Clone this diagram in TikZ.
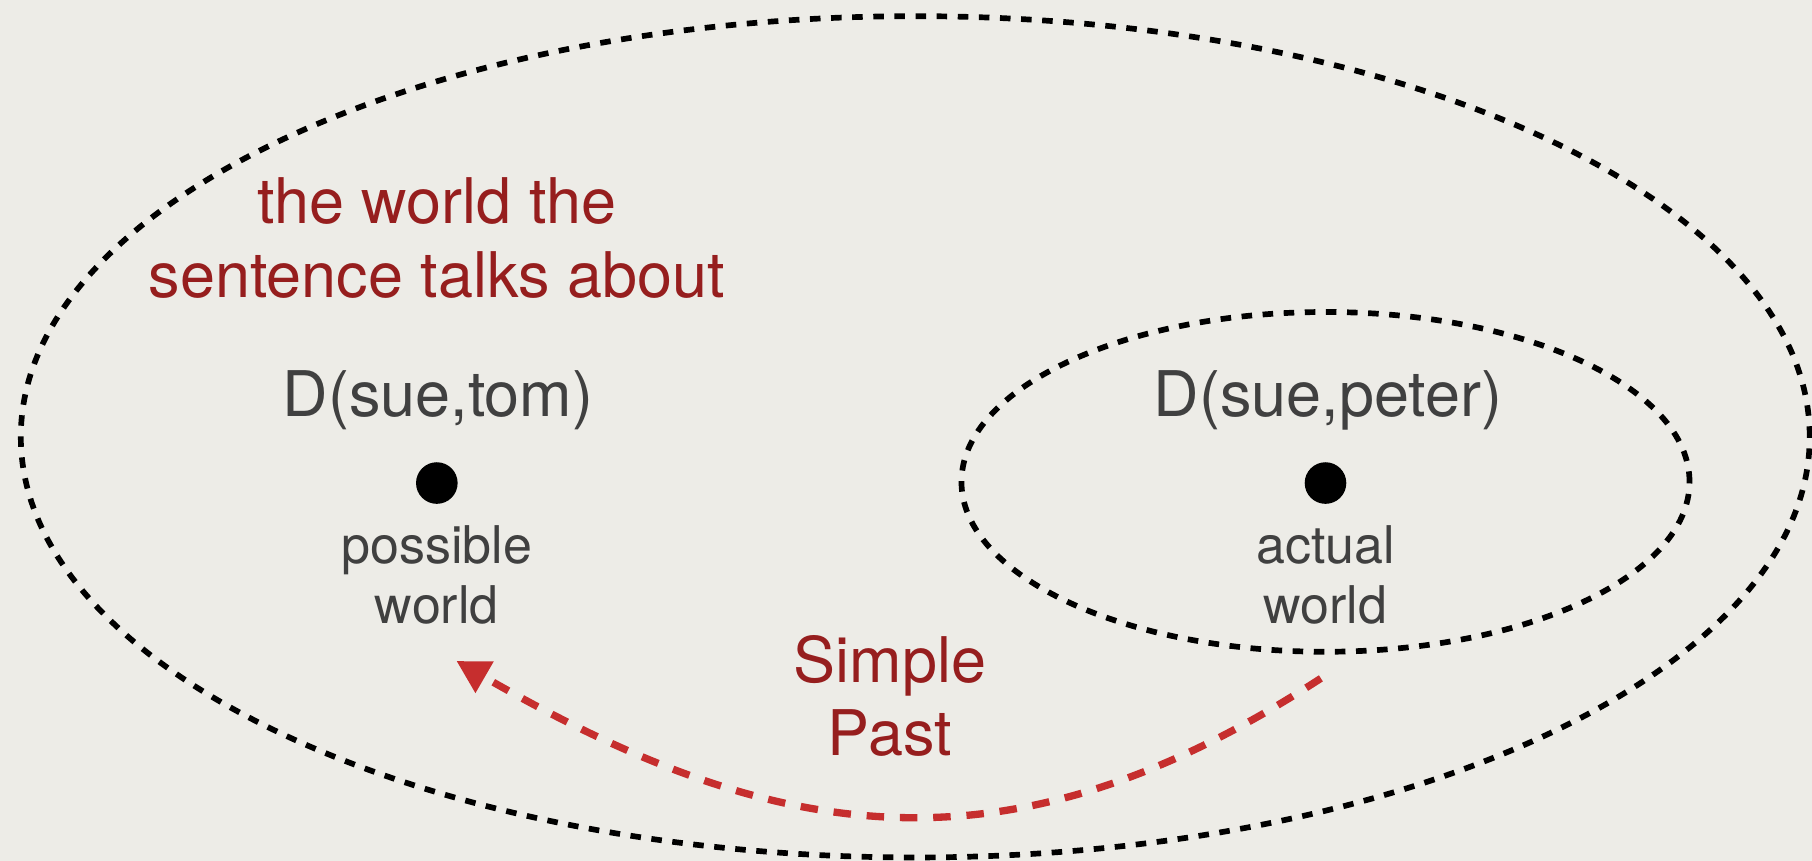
\documentclass[tikz,border=0pt]{standalone}
\usepackage{fontspec}
\setmainfont{TeX Gyre Heros}
\usetikzlibrary{arrows.meta,positioning}

\definecolor{paper}{RGB}{237,236,231}
\definecolor{ink}{RGB}{64,64,64}
\definecolor{darkred}{RGB}{150,30,30}
\definecolor{arrowred}{RGB}{198,46,46}

\begin{document}
\begin{tikzpicture}[>={Triangle[length=8pt,width=8.5pt]},
  world/.style={draw=black, line width=1.4pt, dash pattern=on 2.6pt off 2.6pt},
  dot/.style={circle, fill=black, inner sep=0pt, minimum size=0.36cm},
  formula/.style={text=ink, font=\fontsize{15.5}{18}\selectfont},
  wlabel/.style={text=ink, align=center, font=\fontsize{12.8}{15}\selectfont},
  note/.style={text=darkred, align=center, font=\fontsize{15.5}{18}\selectfont},
  past/.style={->, draw=arrowred, line width=1.8pt, dash pattern=on 4.3pt off 3.9pt}]
\fill[paper] (0,0) rectangle (15.68,7.45);
\useasboundingbox (0,0) rectangle (15.68,7.45);

% worlds
\draw[world] (7.92,3.67) ellipse (7.74 and 3.64);
\draw[world] (11.47,3.28) ellipse (3.15 and 1.47);

\node[note] (talk) at (3.78,5.39) {the world the\\sentence talks about};
\node[formula, anchor=base] (tom) at (3.79,3.85) {D(sue,tom)};
\node[formula, anchor=base] (peter) at (11.49,3.85) {D(sue,peter)};
\node[dot] (pw) at (3.78,3.27) {};
\node[dot] (aw) at (11.47,3.27) {};
\node[wlabel] (pwl) at (3.78,2.475) {possible\\world};
\node[wlabel] (awl) at (11.47,2.475) {actual\\world};
\node[note] (sp) at (7.70,1.43) {Simple\\Past};

% tense shift
\coordinate (from) at (11.43,1.58);
\coordinate (to) at (3.95,1.73);
\path (from) edge[past, out=213, in=330, looseness=1.1] (to);
\end{tikzpicture}
\end{document}
